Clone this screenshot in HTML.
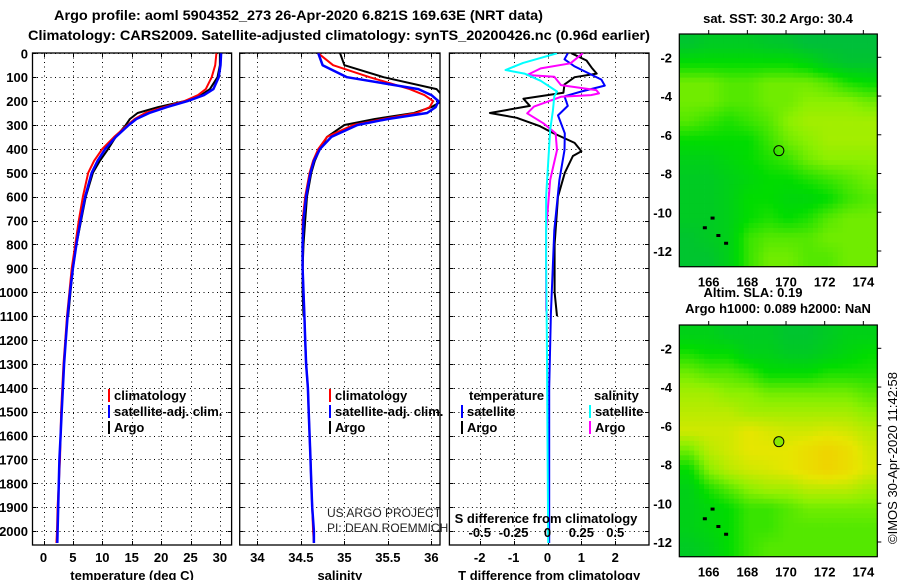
<!DOCTYPE html>
<html><head><meta charset="utf-8"><style>
html,body{margin:0;padding:0;background:#fff;}
svg{display:block;font-family:"Liberation Sans",sans-serif;}
</style></head><body>
<svg id="chart" width="900" height="580" viewBox="0 0 900 580" xmlns="http://www.w3.org/2000/svg">
<text x="54" y="20" font-size="14" font-weight="bold" textLength="489" lengthAdjust="spacingAndGlyphs">Argo profile: aoml 5904352_273 26-Apr-2020 6.821S 169.63E (NRT data)</text>
<text x="28" y="40" font-size="14" font-weight="bold" textLength="622" lengthAdjust="spacingAndGlyphs">Climatology: CARS2009. Satellite-adjusted climatology: synTS_20200426.nc (0.96d earlier)</text>
<g id="g"></g>
</svg>
<script>
// ---------- DATA ----------
const depthLevels=[0,50,100,150,175,200,225,250,275,300,350,400,450,500,600,700,800,900,1000,1100,1200,1300,1400,1500,1600,1700,1800,1900,2000,2050];
const tempClim=[29.4,29.2,28.6,27.6,26.3,24,20.5,17.3,15.5,14.3,12.0,10.0,8.6,7.6,6.7,6.0,5.4,4.8,4.4,4.0,3.7,3.4,3.2,3.0,2.9,2.8,2.6,2.4,2.3,2.2];
const tempSat=[30.2,30.1,29.8,28.9,27.3,24.5,21,18,15.8,14.5,12.3,10.5,9.2,8.2,7.1,6.3,5.6,5.0,4.5,4.1,3.8,3.5,3.3,3.1,2.9,2.7,2.6,2.5,2.4,2.35];
const argoDepths=[0,50,100,150,175,200,225,250,275,300,350,400,450,500,600,700,800,900,1000,1100];
const tempArgo=[30.0,30.0,29.6,28.3,26.8,24,19.5,16,14.7,14.0,12.3,11.0,9.6,8.4,7.2,6.4,5.6,5.0,4.6,4.2];
const salClim=[34.7,34.87,35.29,35.75,35.92,36.02,35.98,35.83,35.45,35.1,34.8,34.7,34.64,34.6,34.55,34.52,34.52,34.52,34.53,34.54,34.55,34.56,34.58,34.59,34.6,34.61,34.62,34.63,34.64,34.65];
const salSat=[34.7,34.75,35.03,35.85,36.0,36.08,36.05,35.95,35.5,35.15,34.85,34.72,34.65,34.61,34.56,34.53,34.52,34.52,34.53,34.54,34.55,34.56,34.58,34.59,34.6,34.61,34.62,34.63,34.65,34.65];
const salArgo=[34.95,35.0,35.45,36.06,36.12,36.12,36.0,35.8,35.35,35.0,34.8,34.72,34.66,34.62,34.57,34.55,34.53,34.52,34.52,34.53];
const dTSatDepths=[0,25,55,110,135,160,180,220,260,335,405,530,740,1090,1400,2050];
const dTSat=[0.6,0.5,0.8,1.59,1.69,1.0,0.5,0.6,0.31,0.51,0.5,0.35,0.2,0.1,0.05,0.05];
const dTArgoDepths=[0,30,60,85,100,130,165,190,220,250,270,305,330,375,410,430,500,600,800,1000,1100];
const dTArgo=[0.71,1.15,1.3,1.45,0.8,0.5,0.47,-0.71,-0.52,-1.7,-0.91,-0.22,0.11,0.8,1.0,0.75,0.51,0.31,0.21,0.21,0.28];
const dSSatDepths=[0,40,70,85,115,160,180,240,320,600,880,1160,2050];
const dSSat=[0.07,-0.18,-0.31,-0.17,-0.05,0.07,0.05,0.04,0.02,-0.01,-0.01,-0.005,0.005];
const dSArgoDepths=[0,42,63,91,98,133,154,168,175,182,223,251,293,335,405,530,740,1075,1103];
const dSArgo=[0.26,0.17,-0.05,-0.15,0.05,0.1,0.36,0.38,0.32,0.1,-0.1,-0.15,-0.03,0.06,0.07,0.02,-0.01,-0.01,0.0];
const depthTicks=[0,100,200,300,400,500,600,700,800,900,1000,1100,1200,1300,1400,1500,1600,1700,1800,1900,2000];
const tempTicks=[0,5,10,15,20,25,30];
const salTicks=[34,34.5,35,35.5,36];
const dTTicks=[-2,-1,0,1,2];
const dSTicks=[-0.5,-0.25,0,0.25,0.5];
const dSTickLabels=["-0.5","-0.25","0","0.25","0.5"];
const lonTicks=[166,168,170,172,174];
const latTicks=[-2,-4,-6,-8,-10,-12];
const sstGrid=[
[0.1,0.15,0.15,0.15,0.12,0.1,0.05,0.05,0.05,0.05],
[0.3,0.3,0.3,0.3,0.3,0.3,0.25,0.15,0.1,0.1],
[0.5,0.5,0.45,0.45,0.5,0.5,0.5,0.45,0.35,0.3],
[0.5,0.5,0.45,0.45,0.5,0.5,0.55,0.55,0.55,0.5],
[0.45,0.4,0.35,0.4,0.45,0.55,0.6,0.6,0.6,0.6],
[0.3,0.3,0.3,0.3,0.4,0.5,0.55,0.6,0.6,0.6],
[0.2,0.2,0.25,0.3,0.35,0.4,0.5,0.55,0.55,0.55],
[0.15,0.15,0.2,0.25,0.3,0.3,0.35,0.4,0.45,0.5],
[0.15,0.15,0.2,0.3,0.3,0.25,0.25,0.3,0.4,0.45],
[0.15,0.15,0.2,0.3,0.35,0.3,0.35,0.45,0.5,0.5],
[0.1,0.15,0.2,0.4,0.45,0.45,0.45,0.5,0.5,0.5],
[0.1,0.1,0.2,0.4,0.5,0.5,0.45,0.45,0.5,0.5]];
const slaGrid=[
[0.2,0.2,0.15,0.15,0.15,0.1,0.1,0.15,0.2,0.2],
[0.35,0.3,0.3,0.2,0.2,0.15,0.15,0.2,0.25,0.3],
[0.5,0.45,0.45,0.4,0.3,0.3,0.3,0.35,0.35,0.35],
[0.6,0.6,0.55,0.55,0.5,0.5,0.5,0.5,0.5,0.45],
[0.65,0.65,0.65,0.6,0.6,0.6,0.6,0.6,0.6,0.55],
[0.7,0.7,0.7,0.75,0.72,0.7,0.7,0.72,0.7,0.65],
[0.5,0.65,0.7,0.75,0.75,0.75,0.8,0.85,0.8,0.7],
[0.3,0.55,0.65,0.7,0.72,0.75,0.8,0.85,0.8,0.72],
[0.2,0.35,0.45,0.55,0.6,0.6,0.65,0.65,0.65,0.6],
[0.2,0.25,0.3,0.4,0.4,0.45,0.5,0.5,0.5,0.5],
[0.2,0.25,0.3,0.4,0.4,0.45,0.45,0.45,0.45,0.45],
[0.15,0.2,0.3,0.4,0.45,0.45,0.45,0.45,0.45,0.45]];
const argoLon=169.63, argoLat=-6.821;

// ---------- RENDER ----------
const NS="http://www.w3.org/2000/svg";
const G=document.getElementById('g');
function mk(tag,attrs,parent){const e=document.createElementNS(NS,tag);for(const k in attrs)e.setAttribute(k,attrs[k]);(parent||G).appendChild(e);return e;}
function txt(s,x,y,attrs,parent){const e=mk('text',Object.assign({x:x,y:y},attrs||{}),parent);e.textContent=s;return e;}
const yD=d=>53.3+d*0.2389;
const TOP=53, BOT=545;
const panels=[
 {name:'temperature',x0:32.5,x1:231.6,f:v=>43.5+v*5.88,ticks:tempTicks,labs:tempTicks.map(String),xlabel:'temperature (deg C)'},
 {name:'salinity',x0:239.7,x1:440,f:v=>257.4+(v-34)*87,ticks:salTicks,labs:["34","34.5","35","35.5","36"],xlabel:'salinity'},
 {name:'difference',x0:449.4,x1:649,f:v=>547.5+v*33.9,ticks:dTTicks,labs:dTTicks.map(String),xlabel:'T difference from climatology'}];
const fS=v=>547.5+v*135.5;
panels.forEach(p=>{
 const g=mk('g',{});
 
 
 const cp=mk('clipPath',{id:'cp-'+p.name},g);
 mk('rect',{x:p.x0,y:TOP,width:p.x1-p.x0,height:BOT-TOP},cp);
 p.g=g;
 const grid=mk('g',{stroke:'#000','stroke-width':1,'stroke-dasharray':'1,3.5'},g);
 
 
 p.ticks.forEach(t=>{const x=Math.round(p.f(t))+0.5;mk('line',{x1:x,x2:x,y1:TOP,y2:BOT},grid);});
 depthTicks.forEach(d=>{const y=Math.round(yD(d))+0.5;mk('line',{x1:p.x0,x2:p.x1,y1:y,y2:y},grid);});
 const tk=mk('g',{stroke:'#000','stroke-width':1},g);
 p.ticks.forEach(t=>{const x=Math.round(p.f(t))+0.5;mk('line',{x1:x,x2:x,y1:BOT,y2:BOT-4},tk);mk('line',{x1:x,x2:x,y1:TOP,y2:TOP+4},tk);});
 depthTicks.forEach(d=>{const y=Math.round(yD(d))+0.5;mk('line',{x1:p.x0,x2:p.x0+4,y1:y,y2:y},tk);mk('line',{x1:p.x1,x2:p.x1-4,y1:y,y2:y},tk);});
 const fr=mk('rect',{x:p.x0,y:TOP,width:p.x1-p.x0,height:BOT-TOP,fill:'none',stroke:'#000','stroke-width':1.3},g);
 
 
 p.ticks.forEach((t,i)=>{const e=txt(p.labs[i],p.f(t),562,{'font-size':13,'font-weight':'bold','text-anchor':'middle'},g);
  
  });
 const xl=txt(p.xlabel,(p.x0+p.x1)/2,580,{'font-size':13,'font-weight':'bold','text-anchor':'middle'},g);
 
 
});
depthTicks.forEach(d=>{const e=txt(String(d),28,yD(d)+5,{'font-size':13,'font-weight':'bold','text-anchor':'end'});
 
 });
function line(p,name,depths,vals,fx,color,w){
 const pts=depths.map((d,i)=>fx(vals[i]).toFixed(1)+','+yD(d).toFixed(1)).join(' ');
 const e=mk('polyline',{points:pts,fill:'none',stroke:color,'stroke-width':w||2,'clip-path':'url(#cp-'+p.name+')','stroke-linejoin':'round'},p.g);
 
 
}
const P1=panels[0],P2=panels[1],P3=panels[2];
line(P1,'temp-argo-line',argoDepths,tempArgo,P1.f,'#000',2);
line(P1,'temp-climatology-line',depthLevels,tempClim,P1.f,'#f00',2);
line(P1,'temp-satellite-line',depthLevels,tempSat,P1.f,'#00f',2.5);
line(P2,'sal-argo-line',argoDepths,salArgo,P2.f,'#000',2);
line(P2,'sal-climatology-line',depthLevels,salClim,P2.f,'#f00',2);
line(P2,'sal-satellite-line',depthLevels,salSat,P2.f,'#00f',2.5);
line(P3,'dT-argo-line',dTArgoDepths,dTArgo,P3.f,'#000',2);
line(P3,'dT-satellite-line',dTSatDepths,dTSat,P3.f,'#00f',2);
line(P3,'dS-argo-line',dSArgoDepths,dSArgo,fS,'#f0f',2);
line(P3,'dS-satellite-line',dSSatDepths,dSSat,fS,'#0ff',2);
dSTicks.forEach((t,i)=>{const e=txt(dSTickLabels[i],fS(t),537,{'font-size':13,'font-weight':'bold','text-anchor':'middle'});
 
 });
const st=txt('S difference from climatology',546,523,{'font-size':13,'font-weight':'bold','text-anchor':'middle'});


function leg(x,y,color,label,name){
 const g=mk('g',{});
 
 
 mk('rect',{x:x,y:y-11,width:2,height:13,fill:color},g);
 txt(label,x+6,y,{'font-size':13,'font-weight':'bold'},g);
}
leg(108,400,'#f00','climatology','legend-temp-climatology');
leg(108,416,'#00f','satellite-adj. clim.','legend-temp-satellite');
leg(108,432,'#000','Argo','legend-temp-argo');
leg(329,400,'#f00','climatology','legend-sal-climatology');
leg(329,416,'#00f','satellite-adj. clim.','legend-sal-satellite');
leg(329,432,'#000','Argo','legend-sal-argo');
const lt=txt('temperature',469,400,{'font-size':13,'font-weight':'bold'});

const ls=txt('salinity',594,400,{'font-size':13,'font-weight':'bold'});

leg(461,416,'#00f','satellite','legend-dT-satellite');
leg(461,432,'#000','Argo','legend-dT-argo');
leg(589,416,'#0ff','satellite','legend-dS-satellite');
leg(589,432,'#f0f','Argo','legend-dS-argo');
const c1=txt('US ARGO PROJECT',327,517,{'font-size':12,fill:'#222'});

const c2=txt('PI: DEAN ROEMMICH',327,532,{'font-size':12,fill:'#222'});


// ---------- MAPS ----------
function cmap(v){
 const st=[[0,[0,185,70]],[0.3,[0,220,0]],[0.55,[140,240,0]],[0.75,[230,230,0]],[1,[250,185,0]]];
 for(let i=1;i<st.length;i++){if(v<=st[i][0]){const a=st[i-1],b=st[i],t=(v-a[0])/(b[0]-a[0]);
  return 'rgb('+a[1].map((c,k)=>Math.round(c+(b[1][k]-c)*t)).join(',')+')';}}
 return 'rgb(250,185,0)';
}
function drawMap(name,grid,y0,y1,title,titleY,argoFill){
 const x0=679.3,x1=877.3;
 const lonF=l=>708.7+(l-166)*19.33;
 const latF=(la,yr)=>yr+(-2-la)*19.37;
 const yref=y0+23.3;
 const g=mk('g',{});
 
 
 const R=grid.length,C=grid[0].length,S=4;
 const cw=(x1-x0)/(C*S),ch=(y1-y0)/(R*S);
 function at(r,c){r=Math.max(0,Math.min(R-1,r));c=Math.max(0,Math.min(C-1,c));return grid[r][c];}
 for(let i=0;i<R*S;i++)for(let j=0;j<C*S;j++){
  const fr=(i+0.5)/S-0.5,fc=(j+0.5)/S-0.5;
  const r0=Math.floor(fr),c0=Math.floor(fc),tr=fr-r0,tc=fc-c0;
  const v=at(r0,c0)*(1-tr)*(1-tc)+at(r0,c0+1)*(1-tr)*tc+at(r0+1,c0)*tr*(1-tc)+at(r0+1,c0+1)*tr*tc;
  const cell=mk('rect',{x:(x0+j*cw).toFixed(2),y:(y0+i*ch).toFixed(2),width:(cw+0.4).toFixed(2),height:(ch+0.4).toFixed(2),fill:cmap(v)},g);
  
  
 }
 mk('rect',{x:x0,y:y0,width:x1-x0,height:y1-y0,fill:'none',stroke:'#000','stroke-width':1.2},g);
 lonTicks.forEach(l=>{const x=lonF(l);mk('line',{x1:x,x2:x,y1:y0,y2:y0-4,stroke:'#000'},g);
  const e=txt(String(l),x,y1+20,{'font-size':13,'font-weight':'bold','text-anchor':'middle'},g);
  });
 latTicks.forEach(la=>{const y=latF(la,yref);mk('line',{x1:x1,x2:x1+4,y1:y,y2:y,stroke:'#000'},g);
  const e=txt(String(la),672,y+5,{'font-size':13,'font-weight':'bold','text-anchor':'end'},g);
  });
 const m=mk('circle',{cx:lonF(argoLon),cy:latF(argoLat,yref),r:5,fill:argoFill,stroke:'#000','stroke-width':1},g);
 
 
 const t=txt(title,778,titleY,{'font-size':13,'font-weight':'bold','text-anchor':'middle'},g);
 
 
 [[165.8,-10.8],[166.5,-11.2],[166.9,-11.6],[166.2,-10.3]].forEach(p=>{mk('rect',{x:lonF(p[0])-2,y:latF(p[1],yref)-1.5,width:4,height:3,fill:'#000'},g);});
}
drawMap('sst',sstGrid,34,266.7,'sat. SST: 30.2 Argo: 30.4',23,'none');
drawMap('sla',slaGrid,325,556.7,'Argo h1000: 0.089 h2000: NaN',313,'#88e800');
const al=txt('Altim. SLA: 0.19',753,297,{'font-size':13,'font-weight':'bold','text-anchor':'middle'});

const cr=txt('©IMOS 30-Apr-2020 11:42:58',0,0,{'font-size':13,'text-anchor':'middle',transform:'translate(897,458) rotate(-90)'});

</script>
</body></html>
